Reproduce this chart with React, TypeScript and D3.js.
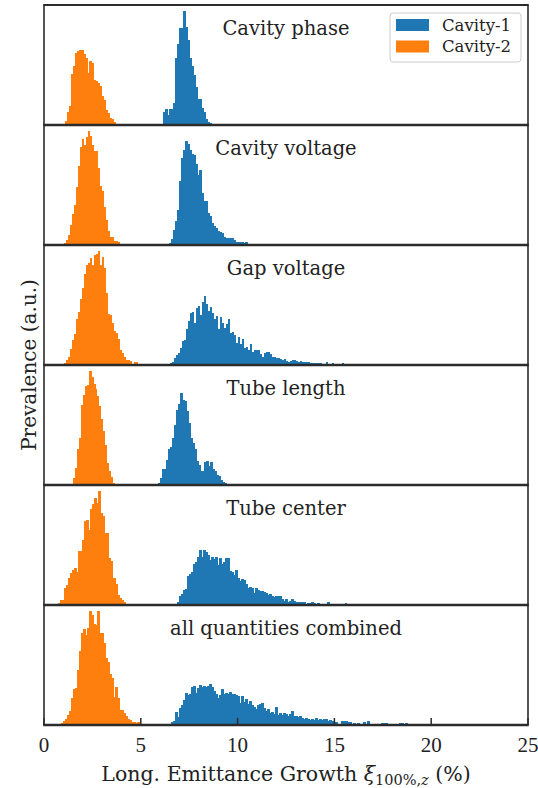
import React from "react";
import * as d3 from "d3";

// ---------- data ----------
const X_TICKS = [0, 5, 10, 15, 20, 25];
const X_DOMAIN = [0, 25];
const PANEL_TITLES = [
  "Cavity phase",
  "Cavity voltage",
  "Gap voltage",
  "Tube length",
  "Tube center",
  "all quantities combined",
];
const SERIES_NAMES = ["Cavity-1", "Cavity-2"];
const BIN_WIDTH = 0.1033;

// first bin edge of each histogram, per panel
const CAV1_START = [6.147, 6.457, 6.508, 5.906, 6.767, 6.474];
const CAV2_START = [1.085, 1.033, 1.033, 1.498, 0.62, 0.792];

// bin heights (arbitrary units)
const CAV1_PHASE = [40, 48, 30, 48, 48, 65, 198, 240, 290, 290, 340, 292, 252, 200, 175, 148, 112, 78, 78, 52, 40, 18, 10, 6, 3];
const CAV2_PHASE = [12, 40, 58, 152, 175, 215, 220, 222, 223, 210, 200, 155, 190, 185, 135, 132, 125, 115, 85, 75, 45, 35, 20, 18, 8, 4];

const CAV1_CAVVOLT = [7, 18, 45, 72, 105, 190, 258, 282, 308, 300, 282, 272, 268, 240, 208, 222, 155, 130, 130, 95, 87, 65, 58, 50, 42, 40, 35, 25, 20, 20, 20, 20, 15, 8, 10, 8, 10, 5, 8, 4, 4, 4, 2, 4];
const CAV2_CAVVOLT = [5, 15, 30, 60, 92, 120, 172, 235, 292, 315, 298, 320, 340, 325, 298, 280, 280, 230, 175, 160, 112, 75, 42, 25, 25, 12, 12, 8, 4, 0, 2, 2];

const CAV1_GAPVOLT = [5, 10, 20, 30, 35, 52, 70, 75, 108, 132, 155, 158, 125, 170, 175, 148, 188, 205, 180, 162, 172, 155, 138, 145, 108, 142, 125, 110, 122, 138, 95, 98, 90, 65, 82, 62, 78, 52, 55, 45, 62, 40, 45, 45, 45, 32, 25, 35, 40, 40, 32, 25, 25, 22, 22, 18, 15, 18, 12, 10, 12, 15, 15, 12, 10, 12, 10, 8, 8, 8, 5, 5, 6, 6, 6, 6, 4, 4, 8, 4, 2, 6, 4, 2, 2, 2, 6, 4, 2, 0, 2, 0, 4, 2, 0, 0, 0, 2, 4];
const CAV2_GAPVOLT = [5, 15, 25, 48, 75, 92, 138, 158, 195, 230, 270, 298, 302, 318, 298, 328, 330, 340, 298, 322, 290, 215, 152, 148, 125, 100, 95, 78, 45, 35, 25, 15, 15, 12, 2, 8, 8, 0, 0, 0, 4];

const CAV1_TUBELEN = [5, 20, 48, 48, 75, 105, 112, 140, 178, 222, 240, 273, 252, 248, 218, 182, 138, 125, 105, 72, 60, 40, 42, 68, 70, 55, 68, 48, 40, 30, 28, 15, 10, 5, 2];
const CAV2_TUBELEN = [22, 50, 105, 140, 238, 265, 292, 295, 338, 320, 300, 285, 262, 235, 195, 160, 118, 65, 40, 25, 5];

const CAV1_TUBECEN = [2, 8, 25, 32, 45, 48, 85, 90, 98, 120, 125, 142, 160, 142, 162, 155, 148, 132, 142, 135, 142, 118, 138, 120, 125, 138, 138, 100, 98, 88, 102, 78, 70, 75, 72, 62, 50, 52, 50, 35, 50, 45, 42, 40, 38, 35, 30, 32, 25, 22, 25, 25, 25, 18, 12, 18, 10, 12, 18, 12, 8, 8, 10, 8, 8, 4, 6, 6, 8, 6, 4, 6, 4, 2, 4, 2, 8, 0, 0, 0, 2, 0, 0, 0, 2, 6, 0, 0, 2, 2, 0, 2, 2, 0, 0, 0, 2, 2, 0, 2, 2, 2, 2, 2, 2, 2, 2, 2, 2];
const CAV2_TUBECEN = [2, 5, 15, 15, 50, 58, 78, 95, 102, 108, 98, 158, 158, 190, 245, 248, 220, 282, 295, 315, 298, 335, 270, 262, 212, 212, 138, 130, 78, 78, 62, 30, 20, 15, 8, 4];

const CAV1_ALL = [3, 8, 13, 37, 23, 50, 58, 73, 93, 88, 90, 112, 115, 95, 108, 118, 112, 115, 112, 115, 120, 112, 100, 92, 80, 88, 105, 90, 95, 90, 98, 92, 92, 88, 85, 65, 85, 68, 75, 62, 70, 60, 52, 48, 60, 62, 65, 50, 42, 48, 35, 38, 32, 52, 30, 35, 28, 35, 32, 25, 32, 40, 25, 25, 22, 25, 20, 18, 20, 18, 15, 18, 15, 20, 15, 18, 15, 18, 18, 12, 15, 12, 10, 10,
  4, 4, 12, 12, 12, 10, 8, 4, 6, 4, 6, 4, 4, 9, 4, 12, 4, 4, 4, 4, 4, 4, 6, 6, 5, 4, 2, 2, 4, 2, 2, 6, 6, 2, 6, 4, 2, 0, 2, 0, 2, 2, 2, 2, 0, 0, 0, 0, 0, 0, 0, 0, 2, 2, 2, 2, 0, 0, 0, 2, 2, 0, 0, 0, 0, 0, 0, 0, 0, 2, 2, 0, 2, 2, 0, 0, 2, 2, 0, 0, 0, 0, 0, 0, 0, 0, 0, 0, 0, 0, 0, 0, 2, 2];
const CAV2_ALL = [2, 5, 12, 18, 30, 40, 78, 105, 108, 160, 218, 270, 282, 265, 285, 335, 322, 295, 292, 335, 270, 270, 240, 195, 185, 150, 138, 82, 112, 78, 45, 45, 35, 25, 18, 15, 8, 8, 5, 8, 4, 4, 2, 0, 0, 2, 0, 2];

const CAV1_SERIES = [CAV1_PHASE, CAV1_CAVVOLT, CAV1_GAPVOLT, CAV1_TUBELEN, CAV1_TUBECEN, CAV1_ALL];
const CAV2_SERIES = [CAV2_PHASE, CAV2_CAVVOLT, CAV2_GAPVOLT, CAV2_TUBELEN, CAV2_TUBECEN, CAV2_ALL];

// ---------- layout ----------
const W = 538;
const H = 788;
const LEFT = 44;
const RIGHT = 528;
const TOP = 5;
const PANEL_H = 120;
const BLUE = "#1f77b4";
const ORANGE = "#ff7f0e";
const SPINE = "#2b2b2b";
const WORD_FONT = "'DejaVu Serif', serif";
const DIGIT_FONT = "'Liberation Serif', serif";

const x = d3.scaleLinear().domain(X_DOMAIN).range([LEFT, RIGHT]);

function Bars({ start, values, y, color }: { start: number; values: number[]; y: d3.ScaleLinear<number, number>; color: string }) {
  return (
    <g fill={color} shapeRendering="crispEdges">
      {values.map((v, i) => {
        if (v <= 0) return null;
        const x0 = x(start + i * BIN_WIDTH);
        const x1 = x(start + (i + 1) * BIN_WIDTH);
        return <rect key={i} x={x0} y={y(v)} width={x1 - x0 + 0.5} height={y(0) - y(v)} />;
      })}
    </g>
  );
}

export default function App() {
  const n = PANEL_TITLES.length;
  const bottom = TOP + n * PANEL_H;
  return (
    <svg width={W} height={H} style={{ position: "absolute", left: 0, top: 0, background: "#fff" }}>
      {PANEL_TITLES.map((title, p) => {
        const y0 = TOP + p * PANEL_H;
        const maxV = d3.max([...CAV1_SERIES[p], ...CAV2_SERIES[p]]) as number;
        const y = d3.scaleLinear().domain([0, maxV * 1.05]).range([y0 + PANEL_H, y0]);
        return (
          <g key={p}>
            <Bars start={CAV1_START[p]} values={CAV1_SERIES[p]} y={y} color={BLUE} />
            <Bars start={CAV2_START[p]} values={CAV2_SERIES[p]} y={y} color={ORANGE} />
            <text x={(LEFT + RIGHT) / 2} y={y0 + 30} textAnchor="middle" fontFamily={WORD_FONT} fontSize={19.5} fill="#222">
              {title}
            </text>
          </g>
        );
      })}
      {/* spines */}
      <line x1={LEFT} x2={LEFT} y1={TOP} y2={bottom} stroke={SPINE} strokeWidth={1.6} />
      <line x1={RIGHT} x2={RIGHT} y1={TOP} y2={bottom} stroke={SPINE} strokeWidth={1.6} />
      {d3.range(n + 1).map((k) => (
        <line key={k} x1={LEFT - 0.8} x2={RIGHT + 0.8} y1={TOP + k * PANEL_H} y2={TOP + k * PANEL_H} stroke={SPINE} strokeWidth={k === 0 ? 1.8 : 2.4} />
      ))}
      {/* x ticks (inward, bottom panel) */}
      {X_TICKS.map((t) => (
        <g key={t}>
          <line x1={x(t)} x2={x(t)} y1={bottom} y2={bottom - 7} stroke={SPINE} strokeWidth={1.5} />
          <text x={x(t)} y={752} textAnchor="middle" fontFamily={DIGIT_FONT} fontSize={21} fill="#222">
            {t}
          </text>
        </g>
      ))}
      {/* x label */}
      <text x={(LEFT + RIGHT) / 2} y={781} textAnchor="middle" fontFamily={WORD_FONT} fontSize={20.5} fill="#222">
        <tspan>Long. Emittance Growth </tspan>
        <tspan fontStyle="italic">ξ</tspan>
        <tspan fontSize={14.5} dy={4}>100%,</tspan>
        <tspan fontSize={14.5} fontStyle="italic">z</tspan>
        <tspan dy={-4}> (%)</tspan>
      </text>
      {/* y label */}
      <text transform={`translate(36, ${(TOP + bottom) / 2}) rotate(-90)`} textAnchor="middle" fontFamily={WORD_FONT} fontSize={20} fill="#222">
        Prevalence (a.u.)
      </text>
      {/* legend */}
      <g>
        <rect x={390} y={13} width={131} height={49} rx={3} fill="#fff" fillOpacity={0.8} stroke="#cccccc" strokeWidth={1} />
        {SERIES_NAMES.map((name, i) => (
          <g key={name}>
            <rect x={396} y={19 + i * 21.5} width={33} height={12} fill={i === 0 ? BLUE : ORANGE} />
            <text x={442} y={30.5 + i * 21.5} fontFamily={WORD_FONT} fontSize={16.5} fill="#222">
              {name}
            </text>
          </g>
        ))}
      </g>
    </svg>
  );
}
